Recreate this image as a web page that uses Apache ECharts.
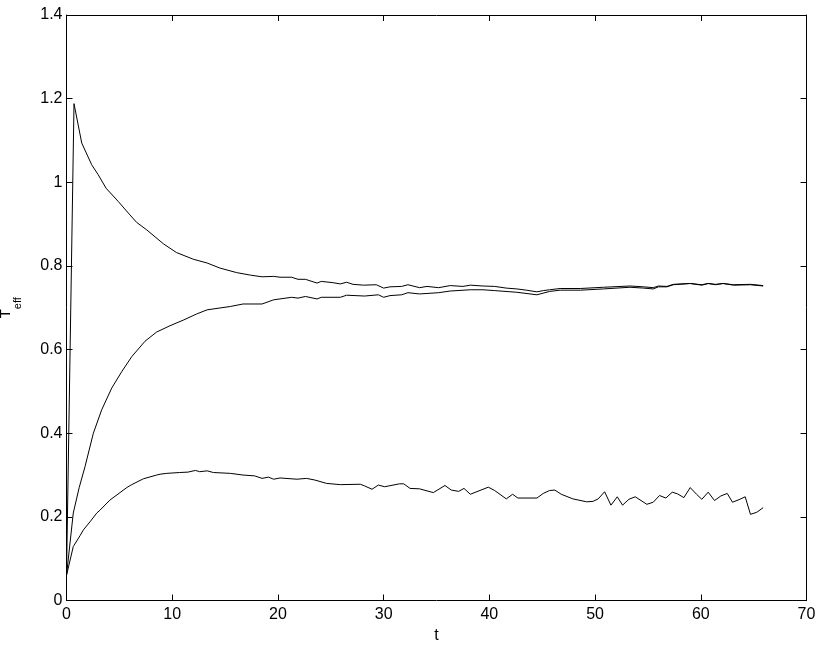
<!DOCTYPE html>
<html>
<head>
<meta charset="utf-8">
<script src="https://cdn.jsdelivr.net/npm/echarts@6/dist/echarts.min.js"></script>
<style>
html,body{margin:0;padding:0;background:#fff;}
#chart{width:822px;height:648px;}
</style>
</head>
<body>
<div id="chart"></div>
<script>
// ---- data ----
var topT = [0,0.71,1.44,2.38,3.0,3.74,4.9,6.0,6.64,7.6,9.16,10.4,12.0,13.3,14.5,16.1,17.4,18.5,19.6,20.2,21.3,21.9,22.6,23.7,24.1,25.2,25.9,26.5,27.1,28.1,29.3,30.0,30.6,31.7,32.3,33.4,34.1,35.2,36.3,37.5,38.2,39.4,40.5,41.6,42.6,43.5,44.5,45.1,45.7,46.7,48.6,50.8,53.3,54.6,55.5,56.0,56.8,57.4,59.0,60.1,60.7,61.4,62.1,63.1,64.7,65.9];
var topY = [0.06,1.188,1.094,1.042,1.018,0.986,0.954,0.922,0.904,0.886,0.853,0.832,0.816,0.807,0.795,0.784,0.778,0.774,0.775,0.773,0.773,0.768,0.768,0.759,0.763,0.760,0.757,0.761,0.756,0.754,0.755,0.747,0.750,0.751,0.755,0.748,0.751,0.748,0.753,0.751,0.754,0.752,0.751,0.747,0.745,0.742,0.738,0.741,0.743,0.746,0.746,0.749,0.752,0.750,0.748,0.752,0.751,0.756,0.758,0.755,0.758,0.756,0.758,0.755,0.756,0.753];

var midT = [0,0.64,1.2,1.75,2.54,3.33,4.28,5.22,6.17,7.43,8.53,9.79,11.1,12.3,13.3,15.5,16.7,18.5,19.6,21.3,21.9,22.6,23.7,24.1,25.9,26.5,28.2,29.5,30.0,30.6,31.7,32.3,33.4,35.2,36.3,38.2,39.4,40.5,42.6,44.5,45.7,46.7,48.6,50.8,53.3,54.6,55.5,56.0,56.8,57.4,59.0,60.1,60.7,61.4,62.1,63.1,64.7,65.9];
var midY = [0.06,0.209,0.27,0.320,0.400,0.456,0.508,0.547,0.583,0.620,0.642,0.657,0.671,0.685,0.695,0.703,0.709,0.709,0.719,0.725,0.723,0.727,0.721,0.725,0.725,0.730,0.728,0.731,0.725,0.729,0.731,0.736,0.733,0.736,0.740,0.743,0.743,0.741,0.737,0.731,0.739,0.742,0.742,0.745,0.749,0.747,0.745,0.750,0.750,0.755,0.758,0.754,0.758,0.755,0.758,0.754,0.755,0.752];

var botT = [0,0.64,1.28,1.6,2.22,2.86,3.17,4.1,5.06,5.7,6.17,7.27,8.53,8.85,9.48,10.7,11.5,12.2,12.6,13.3,13.9,15.5,16.7,17.8,18.5,19.1,19.6,20.2,21.8,22.7,23.5,24.6,25.9,27.8,28.2,28.9,29.5,30.1,31.5,31.9,32.5,33.4,34.7,35.8,36.4,37.1,37.6,38.2,39.9,40.5,41.6,42.2,42.7,44.5,45.1,45.7,46.2,46.8,47.9,49.2,49.8,50.3,50.9,51.5,52.1,52.6,53.2,53.8,54.9,55.5,56.1,56.7,57.3,57.8,58.4,59.0,59.6,60.1,60.7,61.3,61.9,62.5,63.0,63.7,64.2,64.7,65.3,65.9];
var botY = [0.06,0.129,0.155,0.169,0.188,0.209,0.216,0.240,0.258,0.270,0.277,0.291,0.300,0.302,0.304,0.306,0.307,0.311,0.308,0.310,0.306,0.304,0.300,0.298,0.292,0.295,0.290,0.293,0.290,0.292,0.288,0.280,0.277,0.278,0.274,0.266,0.276,0.272,0.279,0.279,0.268,0.267,0.258,0.275,0.264,0.261,0.268,0.254,0.271,0.263,0.243,0.254,0.245,0.245,0.256,0.263,0.264,0.254,0.243,0.236,0.237,0.243,0.260,0.228,0.248,0.228,0.242,0.248,0.230,0.235,0.251,0.245,0.259,0.255,0.246,0.270,0.254,0.242,0.259,0.239,0.250,0.256,0.235,0.242,0.248,0.206,0.211,0.222];

var xTickLabels = ['0','10','20','30','40','50','60','70'];
var yTickLabels = ['0','0.2','0.4','0.6','0.8','1','1.2','1.4'];
var xName = 't';
var yNameMain = 'T';
var yNameSub = 'eff';

function pairs(xs, ys){ return xs.map(function(x,i){ return [x, ys[i]]; }); }

var FONT = 'Liberation Sans, Arial, Helvetica, sans-serif';
var chart = echarts.init(document.getElementById('chart'), null, {renderer:'canvas'});

var lineStyle = {color:'#000', width:1};
var axisLineStyle = {show:true, onZero:false, lineStyle:{color:'#000', width:1}};
var tickIn = {show:true, inside:true, length:6, lineStyle:{color:'#000', width:1}};

var option = {
  animation:false,
  backgroundColor:'#fff',
  grid:{left:66.5, right:15.5, top:15, bottom:47.5, containLabel:false, outerBoundsMode:'none'},
  xAxis:[
    {type:'value', min:0, max:70, interval:10, position:'bottom', show:true,
     axisLine:axisLineStyle, axisTick:tickIn, splitLine:{show:false},
     axisLabel:{show:true, color:'#000', fontFamily:FONT, fontSize:16, margin:6,
       formatter:function(v){ return xTickLabels[Math.round(v/10)]; }},
     name:xName, nameLocation:'middle', nameGap:24,
     nameTextStyle:{color:'#000', fontFamily:FONT, fontSize:16}},
    {type:'value', min:0, max:70, interval:10, position:'top', show:true,
     axisLine:axisLineStyle, axisTick:tickIn, axisLabel:{show:false}, splitLine:{show:false}}
  ],
  yAxis:[
    {type:'value', min:0, max:1.4, interval:0.2, position:'left', show:true,
     axisLine:axisLineStyle, axisTick:tickIn, splitLine:{show:false},
     axisLabel:{show:true, color:'#000', fontFamily:FONT, fontSize:16, margin:4,
       formatter:function(v){ return yTickLabels[Math.round(v/0.2)]; }},
     name:'{m|' + yNameMain + '}{s|' + yNameSub + '}', nameLocation:'middle', nameGap:43, nameRotate:90,
     nameTextStyle:{color:'#000', fontFamily:FONT,
       rich:{m:{fontSize:15, fontFamily:FONT, color:'#000', lineHeight:15, verticalAlign:'top'},
             s:{fontSize:11, fontFamily:FONT, color:'#000', lineHeight:25, verticalAlign:'bottom'}}}},
    {type:'value', min:0, max:1.4, interval:0.2, position:'right', show:true,
     axisLine:axisLineStyle, axisTick:tickIn, axisLabel:{show:false}, splitLine:{show:false}}
  ],
  series:[
    {type:'line', data:pairs(topT, topY), xAxisIndex:0, yAxisIndex:0, showSymbol:false, symbol:'none', lineStyle:lineStyle},
    {type:'line', data:pairs(midT, midY), xAxisIndex:0, yAxisIndex:0, showSymbol:false, symbol:'none', lineStyle:lineStyle},
    {type:'line', data:pairs(botT, botY), xAxisIndex:0, yAxisIndex:0, showSymbol:false, symbol:'none', lineStyle:lineStyle}
  ]
};
chart.setOption(option);
</script>
</body>
</html>
